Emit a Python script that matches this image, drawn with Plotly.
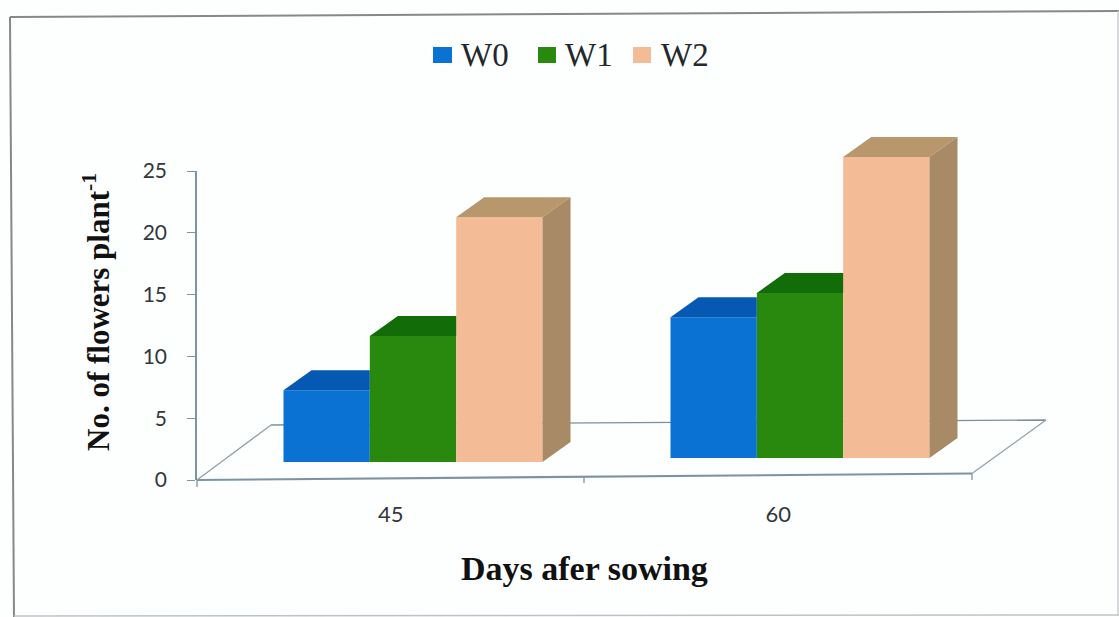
import plotly.graph_objects as go

WIDTH, HEIGHT = 1119, 617

# Chart values
days = ["45", "60"]
series_names = ["W0", "W1", "W2"]
w0 = [5.8, 11.4]
w1 = [10.2, 13.35]
w2 = [19.8, 24.35]
y_ticks = [0, 5, 10, 15, 20, 25]

# The printed chart sits slightly rotated, so the second group's floor is a touch higher
floor_lift = [0.0, 0.32]

front_colors = ["#0a72d2", "#29890f", "#f3bb96"]
top_colors = ["#0659b2", "#126c08", "#b8976c"]
side_color = "#a88a66"
axis_color = "#7d93a3"
label_color = "#33373b"

series = [w0, w1, w2]


def px(x):
    return x / WIDTH


def py(y):
    return 1 - y / HEIGHT


# Pixel layout of the two coordinate systems
AXIS_LEFT, AXIS_RIGHT = 197, 972
AXIS_TOP, AXIS_BOTTOM = 171, 480
BAR_LEFT, BAR_RIGHT = 197, 1046
BAR_TOP, BAR_ZERO = 100, 462
UNIT_X = 387.0
UNIT_Y = (AXIS_BOTTOM - AXIS_TOP) / 25
GROUP_CENTER_45 = 413.0
GROUP_WIDTH = 259 / UNIT_X
SLOT = GROUP_WIDTH / 3
DEPTH_X = 28 / UNIT_X
DEPTH_Y = 20 / UNIT_Y

x2_range = [(BAR_LEFT - GROUP_CENTER_45) / UNIT_X, (BAR_RIGHT - GROUP_CENTER_45) / UNIT_X]
y2_range = [0, (BAR_ZERO - BAR_TOP) / UNIT_Y]

fig = go.Figure()

# Invisible trace that keeps the labelled axes alive
fig.add_trace(go.Scatter(x=[0, 1], y=[0, 25], mode="markers", marker=dict(opacity=0),
                         hoverinfo="skip", showlegend=False, xaxis="x", yaxis="y"))

# Front faces of the columns
for i, name in enumerate(series_names):
    fig.add_trace(go.Bar(
        x=[0, 1], y=series[i], base=floor_lift, name=name,
        marker=dict(color=front_colors[i], line=dict(width=0)),
        xaxis="x2", yaxis="y2", showlegend=False,
    ))

# Top and side faces, derived from the same values
for g in range(len(days)):
    for i in range(len(series_names)):
        left = g - GROUP_WIDTH / 2 + i * SLOT
        right = left + SLOT
        lift = floor_lift[g]
        top = lift + series[i][g]
        last = i == len(series_names) - 1
        back_right = right + DEPTH_X if last else right
        fig.add_trace(go.Scatter(
            x=[left, left + DEPTH_X, back_right, right, left],
            y=[top, top + DEPTH_Y, top + DEPTH_Y, top, top],
            mode="lines", fill="toself", fillcolor=top_colors[i],
            line=dict(width=0), hoverinfo="skip", showlegend=False,
            xaxis="x2", yaxis="y2",
        ))
        if last:
            fig.add_trace(go.Scatter(
                x=[right, right + DEPTH_X, right + DEPTH_X, right, right],
                y=[lift, lift + DEPTH_Y, top + DEPTH_Y, top, lift],
                mode="lines", fill="toself", fillcolor=side_color,
                line=dict(width=0), hoverinfo="skip", showlegend=False,
                xaxis="x2", yaxis="y2",
            ))


def line(x0, y0, x1, y1, color=axis_color, width=1.5):
    return dict(type="line", xref="paper", yref="paper", x0=px(x0), y0=py(y0), x1=px(x1), y1=py(y1),
                line=dict(color=color, width=width), layer="below")


shapes = [
    # Outer frame
    line(10, 17, 1119, 11, "#85898c", 2),
    line(10, 17, 14, 617, "#85898c", 2),
    line(1118, 11, 1118, 615, "#c9cccf", 1.5),
    line(14, 616, 1119, 615, "#bfc2c5", 1.5),
    # Floor of the 3D plot
    line(197, 480, 972, 473.5, axis_color, 2.2),
    line(197, 480, 271, 425, "#93a1aa", 1.3),
    line(271, 425, 1046, 420, "#7f8f9a", 1.3),
    line(972, 473.5, 1046, 420, "#93a1aa", 1.3),
    # Category boundary ticks
    line(197, 480, 197, 487, axis_color, 1.3),
    line(584, 477, 584, 483, axis_color, 1.3),
    line(972, 473.5, 972, 480, axis_color, 1.3),
]

# Legend swatches and labels
legend_swatches = [(433, 452), (538, 556), (633, 651)]
legend_text_x = [459, 563, 659]
annotations = []
for i, name in enumerate(series_names):
    x0, x1 = legend_swatches[i]
    shapes.append(dict(type="rect", xref="paper", yref="paper", x0=px(x0), x1=px(x1),
                       y0=py(63), y1=py(47), fillcolor=front_colors[i], line=dict(width=0)))
    annotations.append(dict(
        text=name, xref="paper", yref="paper", x=px(legend_text_x[i]), y=py(55),
        xanchor="left", yanchor="middle", showarrow=False,
        font=dict(family="Liberation Serif", size=33, color="#23282d"),
    ))

# Axis titles are placed by hand because the plot area fills the whole page
annotations.append(dict(
    text="<b>Days afer sowing</b>", xref="paper", yref="paper", x=px(584), y=py(568),
    xanchor="center", yanchor="middle", showarrow=False,
    font=dict(family="Liberation Serif", size=34, color="#111111"),
))
annotations.append(dict(
    text="<b>No. of flowers plant<sup>-1</sup></b>", xref="paper", yref="paper", x=px(97), y=py(312),
    xanchor="center", yanchor="middle", showarrow=False, textangle=-90,
    font=dict(family="Liberation Serif", size=31, color="#111111"),
))

fig.update_layout(
    width=WIDTH, height=HEIGHT, autosize=False,
    margin=dict(l=0, r=0, t=0, b=0, pad=0),
    paper_bgcolor="#fdfefe", plot_bgcolor="rgba(0,0,0,0)",
    barmode="group", bargap=1 - GROUP_WIDTH, bargroupgap=0,
    showlegend=False, shapes=shapes, annotations=annotations,
    xaxis=dict(
        domain=[px(AXIS_LEFT), px(AXIS_RIGHT)], range=[-0.5, 1.5], anchor="y", automargin=False,
        tickmode="array", tickvals=[0, 1], ticktext=days, ticks="", showline=False,
        showgrid=False, zeroline=False, ticklabelstandoff=19,
        tickfont=dict(family="Lato", size=22, color=label_color),
    ),
    yaxis=dict(
        domain=[py(AXIS_BOTTOM), py(AXIS_TOP)], range=[0, 25], anchor="x", automargin=False,
        tickmode="array", tickvals=y_ticks, ticks="outside", ticklen=8, tickwidth=1.3,
        tickcolor=axis_color, showline=True, linecolor=axis_color, linewidth=1.5,
        showgrid=False, zeroline=False, ticklabelstandoff=16,
        tickfont=dict(family="Lato", size=21, color=label_color),
    ),
    xaxis2=dict(domain=[px(BAR_LEFT), px(BAR_RIGHT)], range=x2_range, anchor="y2", visible=False),
    yaxis2=dict(domain=[py(BAR_ZERO), py(BAR_TOP)], range=y2_range, anchor="x2", visible=False),
)

fig.write_html("out.html", config=dict(displayModeBar=False))
